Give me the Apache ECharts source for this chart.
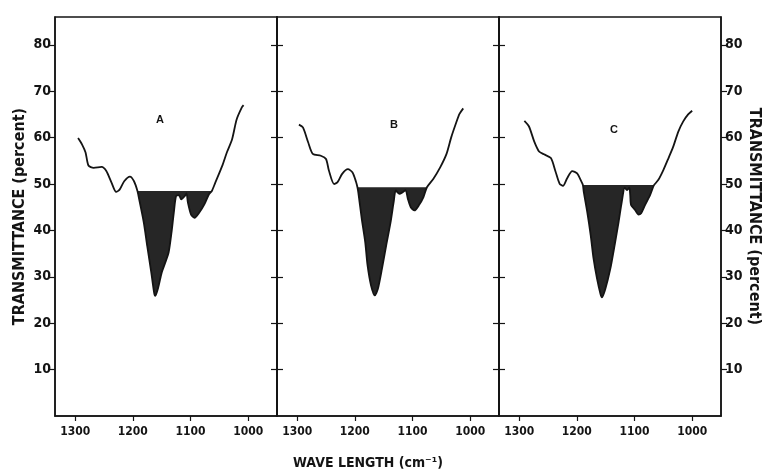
<!DOCTYPE html>
<html>
<head>
<meta charset="utf-8">
<script src="https://cdn.jsdelivr.net/npm/echarts@6/dist/echarts.min.js"></script>
<style>html,body{margin:0;padding:0;background:#fff}#c{width:767px;height:476px}</style>
</head>
<body>
<div id="c"></div>
<script>
// ---- data ----
const panelNames = ['A', 'B', 'C'];
const xTicks = [1000, 1100, 1200, 1300];
const yTicks = [10, 20, 30, 40, 50, 60, 70, 80];
const shadeLevels = [48.5, 49.3, 49.8];
const xTitle = 'WAVE LENGTH (cm\u207B\u00B9)';
const yTitle = 'TRANSMITTANCE (percent)';

const aLeft = [[1295,59.9],[1288,58.5],[1282,56.8],[1277,54],[1268,53.5],[1254,53.7],[1246,52.8],[1237,50.3],[1229,48.3],[1223,48.8],[1215,50.6],[1205,51.6],[1198,50.6]];
const aDip = [[1192,48.5],[1189,46.7],[1181,41.7],[1175,36.6],[1168,30.9],[1163,26.5],[1161,25.9],[1156,27.7],[1150,30.9],[1144,33],[1138,35.2],[1133,39.5],[1129,43.8],[1125,47.4],[1120,47.6],[1116,46.7],[1110,47.4],[1107,48],[1104.5,46],[1099,43.4],[1093,42.7],[1085,43.8],[1076,45.6],[1068,47.8],[1063,48.5]];
const aRight = [[1057,50.3],[1045,53.9],[1037,56.8],[1028,59.6],[1020,63.9],[1011,66.5],[1008,67]];

const bLeft = [[1297,62.8],[1290,62.2],[1281,59],[1273,56.5],[1259,56.1],[1250,55.4],[1245,52.9],[1236,50],[1230,50.4],[1222,52.2],[1212,53.2],[1204,52.5],[1198,50.5]];
const bDip = [[1195.5,49.3],[1194,48.2],[1188,42.5],[1182,37.5],[1178,32.5],[1172,28.2],[1165.4,26],[1160,27.4],[1153,31.7],[1145.6,36.8],[1138,41.8],[1132.7,46.1],[1129,48.6],[1123,47.9],[1117.5,48.2],[1112,48.7],[1108,46.8],[1103,45],[1096.6,44.3],[1089,45.4],[1081,47.2],[1075,49.3]];
const bRight = [[1064,51.1],[1052,53.6],[1041,56.5],[1033,60],[1024,63.3],[1018.5,65.1],[1012,66.3]];

const cLeft = [[1291,63.6],[1283,62.4],[1274,59.2],[1265.5,57],[1257,56.4],[1245,55.6],[1237,52.7],[1230,50.1],[1224,49.6],[1217,51.2],[1208,52.8],[1199.5,52.3],[1192,50.5]];
const cDip = [[1189.5,49.8],[1188,48.3],[1182,44],[1176,39],[1171,33.9],[1165,29.6],[1159,26.3],[1156.4,25.6],[1150.6,27.4],[1142,31.7],[1134.5,36.8],[1127.6,41.8],[1122,46.2],[1117,49.2],[1113,48.7],[1109,49.2],[1107.4,47.6],[1106,45.5],[1099,44.4],[1093,43.4],[1088.5,43.7],[1081.6,45.5],[1073,47.6],[1067,49.6],[1066,49.8]];
const cRight = [[1058.6,50.9],[1050,53],[1041,55.6],[1033,58],[1024,61.3],[1015.5,63.5],[1007,65],[1000,65.8]];

const panels = [[aLeft, aDip, aRight], [bLeft, bDip, bRight], [cLeft, cDip, cRight]];

// ---- chart ----
const FONT = "'Liberation Sans Narrow','DejaVu Sans Condensed','Liberation Sans',sans-serif";
const ink = '#141414';
const gridW = 222, gridTop = 17, gridH = 399;
const lefts = [55, 277, 499];

const grids = lefts.map(l => ({left: l, top: gridTop, width: gridW, height: gridH, show: true, borderColor: ink, borderWidth: 1.5, backgroundColor: 'transparent', containLabel: false, outerBoundsMode: 'none'}));

const plain = v => String(v);

const xAxes = lefts.map((l, i) => ({
  type: 'value', gridIndex: i, min: 950, max: 1335, inverse: true,
  axisLine: {show: true, lineStyle: {color: ink, width: 1.5}},
  axisTick: {show: true, customValues: xTicks, length: 5, lineStyle: {color: ink, width: 1.2}},
  axisLabel: {show: true, customValues: xTicks, formatter: plain, margin: 10, color: ink, fontFamily: FONT, fontWeight: 'bold', fontSize: 12},
  splitLine: {show: false}
}));

function yAx(grid, pos, inside, labels, name) {
  return {
    type: 'value', gridIndex: grid, position: pos, min: 0, max: 86,
    axisLine: {show: true, lineStyle: {color: ink, width: 1.5}},
    axisTick: {show: true, inside: inside, customValues: yTicks, length: 6, lineStyle: {color: ink, width: 1.2}},
    axisLabel: {show: labels, customValues: yTicks, formatter: plain, margin: 4, color: ink, fontFamily: FONT, fontWeight: 'bold', fontSize: 14},
    splitLine: {show: false},
    name: name || '', nameLocation: 'middle', nameGap: pos === 'left' ? 27 : 25,
    nameRotate: pos === 'left' ? 90 : -90,
    nameTextStyle: {color: ink, fontFamily: FONT, fontWeight: 'bold', fontSize: 16}
  };
}
const yAxes = [
  yAx(0, 'left', false, true, yTitle),
  yAx(0, 'right', true, false),
  yAx(1, 'left', true, false),
  yAx(1, 'right', true, false),
  yAx(2, 'left', true, false),
  yAx(2, 'right', false, true, yTitle)
];

const series = [];
panels.forEach((p, i) => {
  const yIdx = i * 2;
  series.push({
    type: 'line', xAxisIndex: i, yAxisIndex: yIdx, data: p[1], smooth: 0.25,
    symbol: 'none', lineStyle: {width: 0},
    areaStyle: {origin: shadeLevels[i], color: '#262626', opacity: 1},
    z: 2, silent: true
  });
  series.push({
    type: 'line', xAxisIndex: i, yAxisIndex: yIdx, data: p[0].concat(p[1], p[2]), smooth: 0.25,
    symbol: 'none', lineStyle: {color: ink, width: 1.8},
    z: 3, silent: true
  });
});

const chart = echarts.init(document.getElementById('c'), null, {renderer: 'canvas'});
chart.setOption({
  animation: false,
  backgroundColor: '#fff',
  grid: grids, xAxis: xAxes, yAxis: yAxes, series: series,
  graphic: panelNames.map((t, i) => ({
    type: 'text', x: [160, 394, 614][i], y: [120, 125, 130][i],
    style: {text: t, fill: ink, font: "bold 11px 'Liberation Sans',sans-serif", textAlign: 'center', textVerticalAlign: 'middle'}
  })).concat([{
    type: 'text', x: 368, y: 463,
    style: {text: xTitle, fill: ink, font: "bold 14px 'Liberation Sans Narrow','DejaVu Sans Condensed',sans-serif", textAlign: 'center', textVerticalAlign: 'middle'}
  }])
});
</script>
</body>
</html>
